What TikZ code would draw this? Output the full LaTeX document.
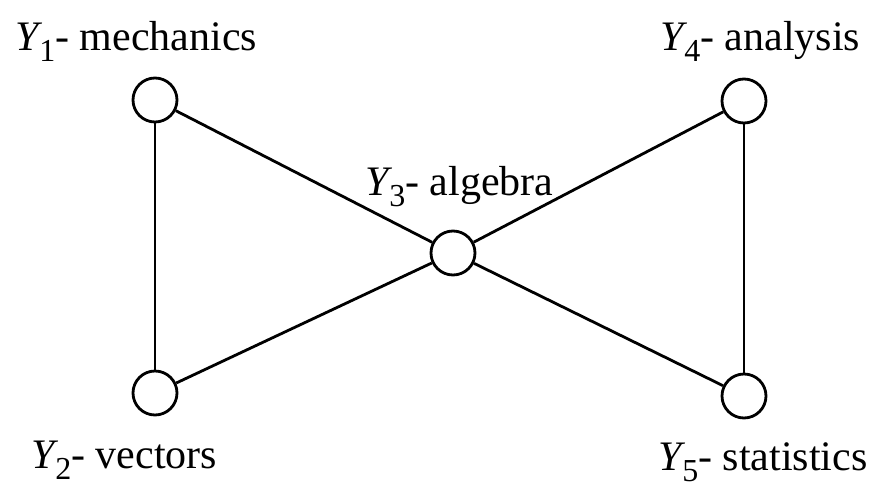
\documentclass[tikz,border=0pt]{standalone}
\usepackage{fontspec}
\setmainfont{Liberation Serif}
\newcommand{\ysub}[1]{\textit{Y}\kern-3pt\raisebox{-11pt}{\fontsize{32}{34}\selectfont #1}}
\begin{document}
\begin{tikzpicture}[x=1pt,y=-1pt,
  topic/.style={draw, circle, fill=white, minimum size=44pt, inner sep=0pt, line width=2.8pt},
  topiclabel/.style={anchor=base west, inner sep=0pt, font=\fontsize{42}{48}\selectfont},
  link/.style={line width=2.8pt},
  ]
  \useasboundingbox (0,0) rectangle (873,485);
  % ---- subjects -------------------------------------------------------------
  \node[topic] (y1) at (155,100) {};
  \node[topic] (y2) at (155,393) {};
  \node[topic] (y3) at (453,253) {};
  \node[topic] (y4) at (744,101) {};
  \node[topic] (y5) at (744,396) {};
  % ---- links ------------------------------------------------------------------
  \draw[link] (y1) -- (y2);
  \draw[link] (y4) -- (y5);
  \foreach \i in {1,2,4,5} { \draw[link] (y\i) -- (y3); }
  % ---- labels -----------------------------------------------------------------
  \node[topiclabel] (l1) at (15,50)  {\ysub{1}- mechanics};
  \node[topiclabel] (l2) at (31,468) {\ysub{2}- vectors};
  \node[topiclabel] (l3) at (365,195) {\ysub{3}- algebra};
  \node[topiclabel] (l4) at (660,50) {\ysub{4}- analysis};
  \node[topiclabel] (l5) at (658,470) {\ysub{5}- statistics};
\end{tikzpicture}
\end{document}
